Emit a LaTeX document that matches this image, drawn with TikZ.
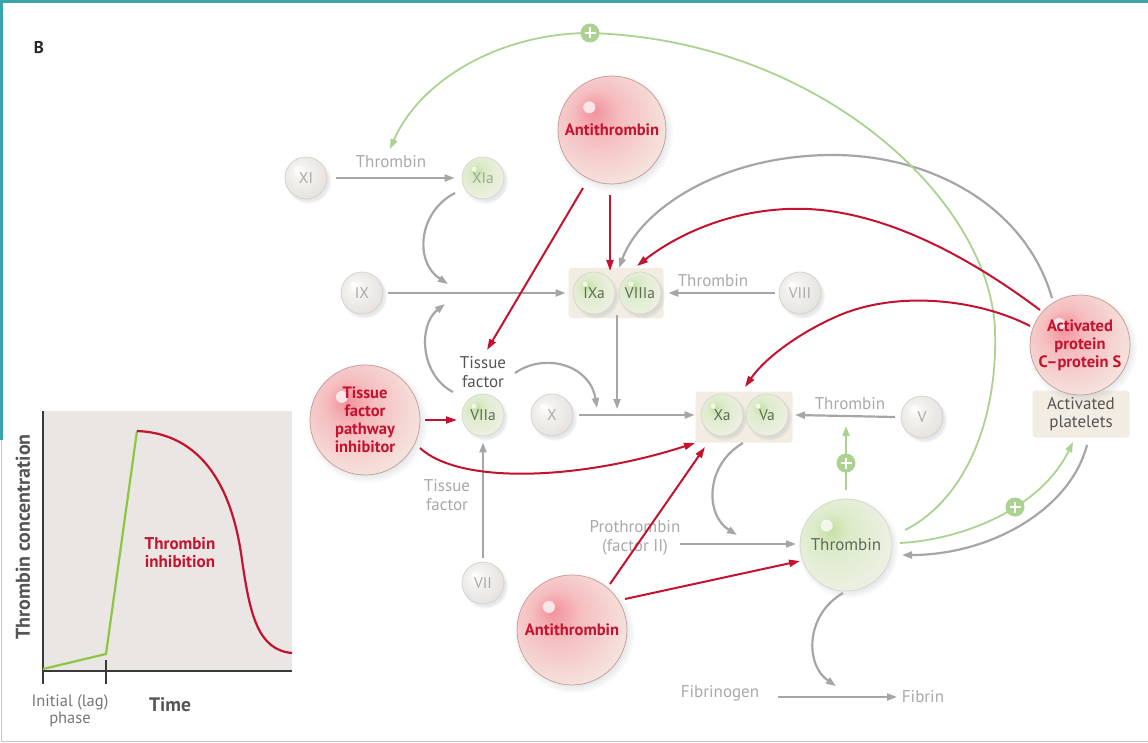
\documentclass[tikz,border=0pt]{standalone}
\usepackage{fontspec}
\setmainfont{PT Sans}
\usetikzlibrary{arrows.meta,calc,shadows}

\definecolor{redc}{HTML}{C4122F}
\definecolor{grayarrow}{HTML}{A6A6A6}
\definecolor{graytext}{HTML}{A9A9A9}
\definecolor{darktext}{HTML}{555555}
\definecolor{greenc}{HTML}{ABD290}
\definecolor{plotgreen}{HTML}{8DC641}
\definecolor{beige}{HTML}{F3ECE3}
\definecolor{tealframe}{HTML}{3AA5A8}
\definecolor{plotbg}{HTML}{E9E6E3}
\definecolor{axisc}{HTML}{3A3A3A}
\definecolor{rA}{HTML}{F2909C}
\definecolor{rB}{HTML}{F5BDBF}
\definecolor{rC}{HTML}{F5E7E0}
\definecolor{gA}{HTML}{C5DFA3}
\definecolor{gB}{HTML}{DCEBCA}
\definecolor{gC}{HTML}{F0F0E6}
\definecolor{yA}{HTML}{FFFFFF}
\definecolor{yB}{HTML}{F3F1EF}
\definecolor{yC}{HTML}{E4E1DD}
\definecolor{redge}{HTML}{C39A94}
\definecolor{gedge}{HTML}{D4D7C8}
\definecolor{yedge}{HTML}{D3D0CC}
\definecolor{shadowc}{HTML}{8E96A3}
\definecolor{greentext}{HTML}{5F6B58}

\pgfdeclareradialshading{shRed}{\pgfpoint{-9bp}{9bp}}{color(0bp)=(rA); color(11bp)=(rB); color(32bp)=(rC); color(55bp)=(rC)}
\pgfdeclareradialshading{shGreen}{\pgfpoint{-9bp}{9bp}}{color(0bp)=(gA); color(10bp)=(gB); color(32bp)=(gC); color(55bp)=(gC)}
\pgfdeclareradialshading{shGray}{\pgfpoint{-9bp}{9bp}}{color(0bp)=(yA); color(10bp)=(yB); color(32bp)=(yC); color(55bp)=(yC)}

\tikzset{
  hl/.style={path picture={\fill[white,opacity=.75] ($(path picture bounding box.center)!0.42!(path picture bounding box.north west)$) circle (#1);}},
  sph/.style={circle, inner sep=-8pt, align=center, line width=0.7pt,
    circular drop shadow={shadow xshift=2pt, shadow yshift=-2.5pt, opacity=.22, fill=shadowc}},
  graysph/.style={sph, minimum size=42pt, shading=shGray, draw=yedge, text=graytext, hl=2.5pt, font=\fontsize{15.5}{17}\selectfont},
  greensph/.style={sph, minimum size=42pt, shading=shGreen, draw=gedge, text=greentext, hl=2.5pt, font=\fontsize{15.5}{17}\selectfont},
  redbig/.style={sph, shading=shRed, draw=redge, text=redc, font=\bfseries\fontsize{16.5}{18}\selectfont, hl=6pt},
  greenbig/.style={sph, shading=shGreen, draw=gedge, text=greentext, hl=6pt},
  lbl/.style={text=graytext, align=center, inner sep=1pt},
  dlbl/.style={text=darktext, align=center, inner sep=1pt},
  garrow/.style={draw=grayarrow, line width=2.2pt, -{Triangle[length=10pt,width=7pt]}},
  rarrow/.style={draw=redc, line width=2pt, -{Triangle[length=11pt,width=7pt]}},
  gnarrow/.style={draw=greenc, line width=1.8pt, -{Triangle[length=10pt,width=7pt]}},
  plusm/.style={circle, fill=greenc, minimum size=19pt, inner sep=0pt,
    path picture={\draw[white, line width=2.2pt] ($(path picture bounding box.center)+(-5.5,0)$) -- ++(11,0) ($(path picture bounding box.center)+(0,-5.5)$) -- ++(0,11);}},
  box/.style={fill=beige, rounded corners=3pt, inner sep=0pt},
}

\begin{document}
\begin{tikzpicture}[x=1pt,y=-1pt, font=\fontsize{17}{18.5}\selectfont]
\useasboundingbox (0,0) rectangle (1148,743);
\fill[white] (0,0) rectangle (1148,743);
% frame
\draw[tealframe, line width=3pt] (0,1.5) -- (1148,1.5);
\draw[tealframe, line width=3pt] (1.5,0) -- (1.5,440);
\draw[black!22, line width=1.2pt] (1.5,440) -- (1.5,741.5) -- (1148,741.5);

\node[font=\bfseries\fontsize{17}{19}\selectfont, text=black!85] (B) at (39,48) {B};

% ---------- inset graph ----------
\fill[plotbg] (43,411) rectangle (292,671);
\draw[axisc, line width=2.6pt] (43,411) -- (43,671) -- (292,671);
\draw[axisc, line width=2.6pt] (43,660) -- (43,684) (106,660) -- (106,684);
\draw[plotgreen, line width=2.2pt, line join=round] (43,669) -- (106,654) -- (137,431);
\draw[redc, line width=2.2pt] (137,431) .. controls (190,433) and (230,470) .. (242,560) .. controls (250,615) and (258,650) .. (292,653);
\node[text=redc, font=\bfseries\fontsize{17}{18}\selectfont, align=center] (inh) at (180,553) {Thrombin\\inhibition};
\node[text=darktext, font=\bfseries\fontsize{20}{22}\selectfont, rotate=90] (conc) at (23,537) {Thrombin concentration};
\node[text=darktext!80, align=center, font=\fontsize{16.5}{17.5}\selectfont] (lag) at (70,711) {Initial (lag)\\phase};
\node[text=darktext, font=\bfseries\fontsize{19.5}{21}\selectfont] (time) at (170,705) {Time};

% ---------- beige boxes ----------
\node[box, minimum width=95pt, minimum height=50pt] (box1) at (616,293) {};
\node[box, minimum width=97pt, minimum height=51pt] (box2) at (744,417) {};
\node[box, dlbl, minimum width=97pt, minimum height=47pt] (PL) at (1081,414) {Activated\\platelets};

% ---------- spheres ----------
\node[graysph] (XI) at (306,178) {XI};
\node[greensph, text=greentext!60] (XIa) at (483,178) {XIa};
\node[redbig, minimum size=108pt] (AT1) at (612,130) {Antithrombin};
\node[graysph] (IX) at (362,293) {IX};
\node[greensph] (IXa) at (594,293) {IXa};
\node[greensph] (VIIIa) at (640,293) {VIIIa};
\node[graysph] (VIII) at (800,293) {VIII};
\node[redbig, minimum size=110pt] (TFPI) at (365,420) {Tissue\\factor\\pathway\\inhibitor};
\node[greensph] (VIIa) at (483,415) {VIIa};
\node[graysph] (X) at (552,415) {X};
\node[greensph] (Xa) at (722,415) {Xa};
\node[greensph] (Va) at (767,415) {Va};
\node[graysph] (V) at (922,417) {V};
\node[redbig, minimum size=100pt] (APC) at (1080,345) {Activated\\protein\\C--protein S};
\node[graysph] (VII) at (483,583) {VII};
\node[redbig, minimum size=110pt] (AT2) at (572,630) {Antithrombin};
\node[greenbig, minimum size=92pt, font=\fontsize{17}{18}\selectfont] (TH) at (846,545) {Thrombin};

% ---------- labels ----------
\node[lbl] (thr1) at (391,162) {Thrombin};
\node[lbl] (thr2) at (713,281) {Thrombin};
\node[lbl] (thr3) at (850,404) {Thrombin};
\node[dlbl] (TF1) at (483,372) {Tissue\\factor};
\node[lbl] (TF2) at (447,495) {Tissue\\factor};
\node[lbl] (PT) at (635,538) {Prothrombin\\(factor II)};
\node[lbl] (FG) at (720,693) {Fibrinogen};
\node[lbl] (FB) at (923,697) {Fibrin};

% junction coordinates
\coordinate (J1) at (448,284);
\coordinate (J1b) at (445,304);
\coordinate (J2) at (597,408);
\coordinate (J3) at (617,409);
\coordinate (Jv) at (846,426);
\coordinate (Jp) at (737,535);
\coordinate (Jf) at (836,686);

% ---------- gray arrows ----------
\draw[garrow, shorten <=9pt, shorten >=7pt] (XI) -- (XIa);
\draw[garrow, shorten <=5pt, shorten >=7pt] (IX) -- (IXa);
\draw[garrow, shorten <=4pt, shorten >=7pt] (VIII) -- (VIIIa);
\draw[garrow, shorten <=6pt, shorten >=6pt] (X) -- (Xa);
\draw[garrow] ($(V)+(-27,0)$) -- ($(Va)+(28,0)$);
\draw[garrow, shorten <=4pt, shorten >=6pt] (VII) -- (VIIa);
\draw[garrow] ($(XIa)+(-28,15)$) .. controls (418,212) and (414,262) .. (J1);
\draw[garrow] ($(VIIa)+(-30,-23)$) .. controls (420,375) and (418,325) .. (J1b);
\draw[garrow] ($(TF1)+(32,1)$) .. controls (545,352) and (590,365) .. (J2);
\draw[garrow] ($(IXa)+(23,22)$) -- (J3);
\draw[garrow] ($(Xa)+(21,28)$) .. controls (705,465) and (705,515) .. (Jp);
\draw[garrow] ($(PT)+(45,6)$) -- ($(TH)+(-50,-1)$);
\draw[garrow] ($(PL)+(6,31)$) .. controls (1070,510) and (990,555) .. ($(TH)+(56,10)$);
\draw[garrow] ($(TH)+(-3,48)$) .. controls (805,615) and (805,665) .. (Jf);
\draw[garrow] ($(FG)+(58,4)$) -- ($(FB)+(-26,0)$);
\draw[garrow] ($(APC)+(-28,-47)$) .. controls (1025,205) and (930,155) .. (833,155) .. controls (720,155) and (640,210) .. ($(IXa)+(25,-25)$);

% ---------- green arrows ----------
\draw[gnarrow] ($(TH)+(59,-15)$) .. controls (965,500) and (998,420) .. (995,330) .. controls (990,200) and (820,40) .. (590,33) .. controls (500,33) and (420,80) .. ($(thr1)+(-1,-13)$);
\node[plusm] (p1) at (590,33) {};
\draw[gnarrow] ($(TH)+(0,-55)$) -- (Jv);
\node[plusm] (p2) at (846,463) {};
\draw[gnarrow] ($(TH)+(54,-2)$) .. controls (960,540) and (1040,510) .. ($(PL)+(-8,28)$);
\node[plusm] (p3) at (1015,507) {};

% ---------- red arrows ----------
\draw[rarrow] ($(AT1)+(-29,58)$) -- ($(TF1)+(4,-22)$);
\draw[rarrow] ($(AT1)+(-2,65)$) -- ($(IXa)+(16,-22)$);
\draw[rarrow] ($(APC)+(-40,-35)$) .. controls (960,250) and (870,205) .. (787,209) .. controls (720,212) and (670,240) .. ($(VIIIa)+(-3,-27)$);
\draw[rarrow] ($(APC)+(-50,-19)$) .. controls (980,300) and (900,290) .. (840,315) .. controls (800,332) and (765,358) .. ($(Xa)+(23,-28)$);
\draw[rarrow] ($(TFPI)+(60,0)$) -- ($(VIIa)+(-26,5)$);
\draw[rarrow] ($(TFPI)+(55,28)$) .. controls (460,485) and (580,480) .. ($(Xa)+(-27,28)$);
\draw[rarrow] ($(AT2)+(38,-46)$) -- ($(Xa)+(-17,32)$);
\draw[rarrow] ($(AT2)+(53,-31)$) -- ($(TH)+(-46,16)$);
\end{tikzpicture}
\end{document}
